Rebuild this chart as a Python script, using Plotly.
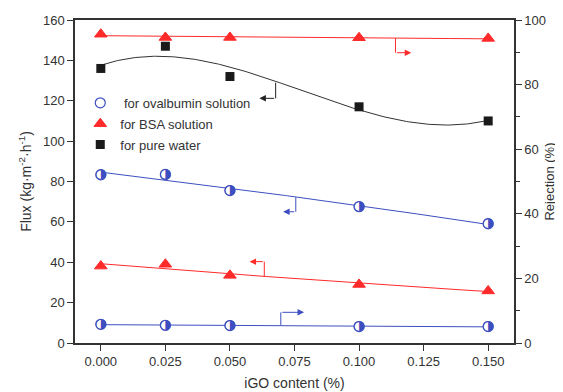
import numpy as np
import plotly.graph_objects as go

igo = [0.000, 0.025, 0.050, 0.100, 0.150]
flux_water = [136, 147, 132, 117, 110]
flux_oval = [83.3, 83.5, 75.5, 67.5, 59.0]
flux_bsa = [38.1, 39.0, 33.5, 29.0, 25.8]
rej_bsa = [95.6, 94.6, 94.6, 94.5, 94.3]
rej_oval = [5.8, 5.5, 5.4, 5.1, 5.1]

x_ticks = [0.000, 0.025, 0.050, 0.075, 0.100, 0.125, 0.150]
x_ticklabels = ["0.000", "0.025", "0.050", "0.075", "0.100", "0.125", "0.150"]

FONT = "Arial, Liberation Sans, sans-serif"
RED = "#ff2a2a"
BLUE = "#3d4fc0"
BLACK = "#1a1a1a"

xf = np.linspace(0, 0.15, 200)
def fit(y, deg):
    return np.polyval(np.polyfit(igo, y, deg), xf)

fig = go.Figure()

# fitted curves
fig.add_trace(go.Scatter(x=xf, y=fit(flux_water, 3), mode="lines", line=dict(color="#333333", width=1), showlegend=False, hoverinfo="skip"))
fig.add_trace(go.Scatter(x=xf, y=fit(flux_oval, 2), mode="lines", line=dict(color=BLUE, width=1), showlegend=False, hoverinfo="skip"))
fig.add_trace(go.Scatter(x=xf, y=fit(flux_bsa, 2), mode="lines", line=dict(color=RED, width=1), showlegend=False, hoverinfo="skip"))
fig.add_trace(go.Scatter(x=xf, y=fit(rej_bsa, 1), mode="lines", line=dict(color=RED, width=1), yaxis="y2", showlegend=False, hoverinfo="skip"))
fig.add_trace(go.Scatter(x=xf, y=fit(rej_oval, 1), mode="lines", line=dict(color=BLUE, width=1), yaxis="y2", showlegend=False, hoverinfo="skip"))

# ovalbumin markers (legend + half-filled glyph)
fig.add_trace(go.Scatter(x=igo, y=flux_oval, mode="markers", name=" for ovalbumin solution", legendgroup="a",
                         marker=dict(symbol="circle", size=10, color="white", line=dict(color=BLUE, width=1.2))))
fig.add_trace(go.Scatter(x=igo, y=rej_oval, mode="markers", yaxis="y2", showlegend=False,
                         marker=dict(symbol="circle", size=10, color="white", line=dict(color=BLUE, width=1.2))))
fig.add_trace(go.Scatter(x=igo, y=flux_oval, mode="text", text=["◑"] * len(igo), showlegend=False,
                         textfont=dict(color=BLUE, size=14, family="DejaVu Sans"), textposition="middle center"))
fig.add_trace(go.Scatter(x=igo, y=rej_oval, mode="text", text=["◑"] * len(igo), yaxis="y2", showlegend=False,
                         textfont=dict(color=BLUE, size=14, family="DejaVu Sans"), textposition="middle center"))

# BSA markers
fig.add_trace(go.Scatter(x=igo, y=flux_bsa, mode="markers", name="for BSA solution", legendgroup="b",
                         marker=dict(symbol="triangle-up", size=11, color=RED, line=dict(color=RED, width=1))))
fig.add_trace(go.Scatter(x=igo, y=rej_bsa, mode="markers", yaxis="y2", showlegend=False,
                         marker=dict(symbol="triangle-up", size=11, color=RED, line=dict(color=RED, width=1))))

# pure water markers
fig.add_trace(go.Scatter(x=igo, y=flux_water, mode="markers", name="for pure water", legendgroup="c",
                         marker=dict(symbol="square", size=9, color=BLACK)))

# bracket arrows: (x vertical, y_from, y_to, head x, head y, color)
arrows = [
    (0.0677, 128.9, 121.2, 0.0614, 121.2, "#222222"),
    (0.1141, 150.9, 143.8, 0.1202, 143.8, RED),
    (0.0633, 32.8, 40.3, 0.0576, 40.3, RED),
    (0.0755, 72.2, 65.0, 0.0706, 65.0, BLUE),
    (0.0697, 8.9, 15.2, 0.0787, 15.2, BLUE),
]
shapes = []
annotations = []
for xv, y0, y1, hx, hy, c in arrows:
    shapes.append(dict(type="line", xref="x", yref="y", x0=xv, x1=xv, y0=y0, y1=y1, line=dict(color=c, width=1)))
    annotations.append(dict(x=hx, y=hy, ax=xv, ay=y1, xref="x", yref="y", axref="x", ayref="y", text="",
                            showarrow=True, arrowhead=2, arrowsize=1.3, arrowwidth=1, arrowcolor=c, standoff=0))

axis_common = dict(showline=True, linecolor="#333333", linewidth=1.5, ticks="outside", ticklen=6,
                   tickwidth=1.2, tickcolor="#333333", showgrid=False, zeroline=False, automargin=False,
                   tickfont=dict(family=FONT, size=13, color="#333333"))

# page body has an 8px default margin, so the figure is sized to fit the window
fig.update_layout(
    width=555, height=384,
    margin=dict(l=67, r=49, t=12, b=49),
    paper_bgcolor="white", plot_bgcolor="white",
    font=dict(family=FONT, color="#333333"),
    xaxis=dict(range=[-0.01, 0.16], tickvals=x_ticks, ticktext=x_ticklabels, mirror=True,
               title=dict(text="iGO content (%)", font=dict(size=14, family=FONT, color="#333333"), standoff=10),
               **axis_common),
    yaxis=dict(range=[0, 160], dtick=20,
               title=dict(text="Flux (kg·m<sup>-2</sup>·h<sup>-1</sup>)", font=dict(size=14, family=FONT, color="#333333"), standoff=8),
               **axis_common),
    yaxis2=dict(range=[0, 100], dtick=20, overlaying="y", side="right",
                minor=dict(dtick=10, ticks="outside", ticklen=4, tickcolor="#333333", tickwidth=1.2),
                title=dict(text="Rejection (%)", font=dict(size=13, family=FONT, color="#333333"), standoff=0),
                **axis_common),
    legend=dict(x=0.012, y=0.79, xanchor="left", yanchor="top", bgcolor="rgba(0,0,0,0)",
                traceorder="grouped", tracegroupgap=1,
                font=dict(family=FONT, size=13, color="#333333")),
    shapes=shapes,
    annotations=annotations,
)

fig.write_html("out.html")
